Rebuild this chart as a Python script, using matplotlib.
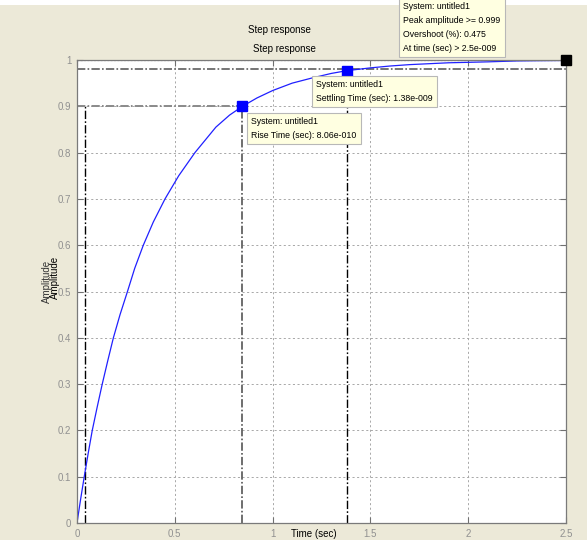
import numpy as np
import matplotlib.pyplot as plt
from matplotlib.patches import Rectangle

plt.rcParams['font.family'] = ['Liberation Sans', 'DejaVu Sans']
plt.rcParams['lines.scale_dashes'] = False

# step response (time in 1e-9 s)
time = [0, 0.018, 0.037, 0.057, 0.078, 0.103, 0.129, 0.157, 0.186, 0.22,
        0.258, 0.295, 0.339, 0.39, 0.45, 0.52, 0.603, 0.71, 0.78, 0.846, 0.92,
        1.0, 1.1, 1.2, 1.3, 1.38, 1.5, 1.6, 1.7, 1.8, 1.9, 2.0, 2.1,
        2.25, 2.35, 2.5]
amplitude = [0, 0.05, 0.1, 0.15, 0.2, 0.25, 0.3, 0.35, 0.4, 0.45,
             0.5, 0.55, 0.6, 0.65, 0.7, 0.75, 0.8, 0.855, 0.881, 0.9, 0.918,
             0.934, 0.95, 0.961, 0.971, 0.977, 0.983, 0.987, 0.99, 0.992, 0.994,
             0.995, 0.996, 0.998, 0.9985, 0.999]

t_low = 0.04          # 10 % crossing
t_rise = 0.846        # 90 % crossing
y_rise = 0.9
t_settle = 1.38
y_settle = 0.977
y_band = 0.98
t_peak = 2.5
y_peak = 0.999

xticks = [0, 0.5, 1, 1.5, 2, 2.5]
xticklabels = ['0', '0.5', '1', '1.5', '2', '2.5']
yticks = [0, 0.1, 0.2, 0.3, 0.4, 0.5, 0.6, 0.7, 0.8, 0.9, 1]
yticklabels = ['0', '0.1', '0.2', '0.3', '0.4', '0.5', '0.6', '0.7', '0.8', '0.9', '1']

W, H = 587, 540
fig = plt.figure(figsize=(W / 100, H / 100), dpi=100, facecolor='#ECE9D8')
fig.patches.append(Rectangle((0, 1 - 5 / H), 1, 5 / H, transform=fig.transFigure,
                             facecolor='white', edgecolor='none'))

def px(x, y):
    return x / W, 1 - y / H

ax = fig.add_axes([77 / W, 17 / H, 489 / W, 463 / H])
ax.set_facecolor('white')
ax.set_xlim(0, 2.5)
ax.set_ylim(0, 1)
ax.set_xticks(xticks)
ax.set_xticklabels(xticklabels)
ax.set_yticks(yticks)
ax.set_yticklabels(yticklabels)
ax.tick_params(direction='in', length=4, color='#707070', labelcolor='#909090',
               labelsize=7, top=True, right=True, pad=4)
for s in ax.spines.values():
    s.set_color('#7a7a7a')
    s.set_linewidth(0.9)
ax.grid(True, color='#a8a8a8', linestyle=(0, (1.5, 1.8)), linewidth=0.7)

# reference lines
dd = (0, (6, 1.6, 1.2, 1.6))
ax.plot([t_low, t_low], [0, y_rise], color='black', lw=1.0, linestyle=dd)
ax.plot([0, t_rise], [y_rise, y_rise], color='#8a8a8a', lw=1.4, linestyle=dd)
ax.plot([t_rise, t_rise], [0, y_rise], color='#555555', lw=1.2, linestyle=dd)
ax.plot([0, 2.5], [y_band, y_band], color='#6a6a6a', lw=1.3, linestyle=dd)
ax.plot([t_settle, t_settle], [0, y_settle], color='black', lw=1.0, linestyle=dd)
ax.plot([0, 2.5], [1, 1], color='black', lw=0.8, linestyle=(0, (1.2, 1.2)))

ax.plot(time, amplitude, color='#2020FF', lw=0.9)
ax.plot([t_rise, t_settle], [y_rise, y_settle], 's', color='#0000FF',
        markersize=6.5, clip_on=False, zorder=5)
ax.plot([t_peak], [y_peak], 's', color='black', markersize=6.5, clip_on=False,
        zorder=6)

# titles and labels (drawn twice, as in the original)
fs = 7
fig.text(*px(279, 30), 'Step response', ha='center', va='center', fontsize=fs)
fig.text(*px(284, 49), 'Step response', ha='center', va='center', fontsize=fs)
fig.text(*px(47, 281), 'Amplitude', ha='center', va='center', rotation=90,
         fontsize=fs, color='#333333')
fig.text(*px(55, 277), 'Amplitude', ha='center', va='center', rotation=90,
         fontsize=fs)
fig.text(*px(314, 534), 'Time (sec)', ha='center', va='center', fontsize=fs)

# data tips
tip = dict(boxstyle='square,pad=0.5', facecolor='#FFFFE1', edgecolor='#B8B8B8',
           linewidth=0.8)
fig.text(*px(403, 2), 'System: untitled1\nPeak amplitude >= 0.999\n'
         'Overshoot (%): 0.475\nAt time (sec) > 2.5e-009',
         ha='left', va='top', fontsize=6.3, linespacing=1.7, bbox=tip)
fig.text(*px(316, 80), 'System: untitled1\nSettling Time (sec): 1.38e-009',
         ha='left', va='top', fontsize=6.3, linespacing=1.7, bbox=tip)
fig.text(*px(251, 117), 'System: untitled1\nRise Time (sec): 8.06e-010',
         ha='left', va='top', fontsize=6.3, linespacing=1.7, bbox=tip)

fig.savefig('out.png', dpi=100, facecolor=fig.get_facecolor())
